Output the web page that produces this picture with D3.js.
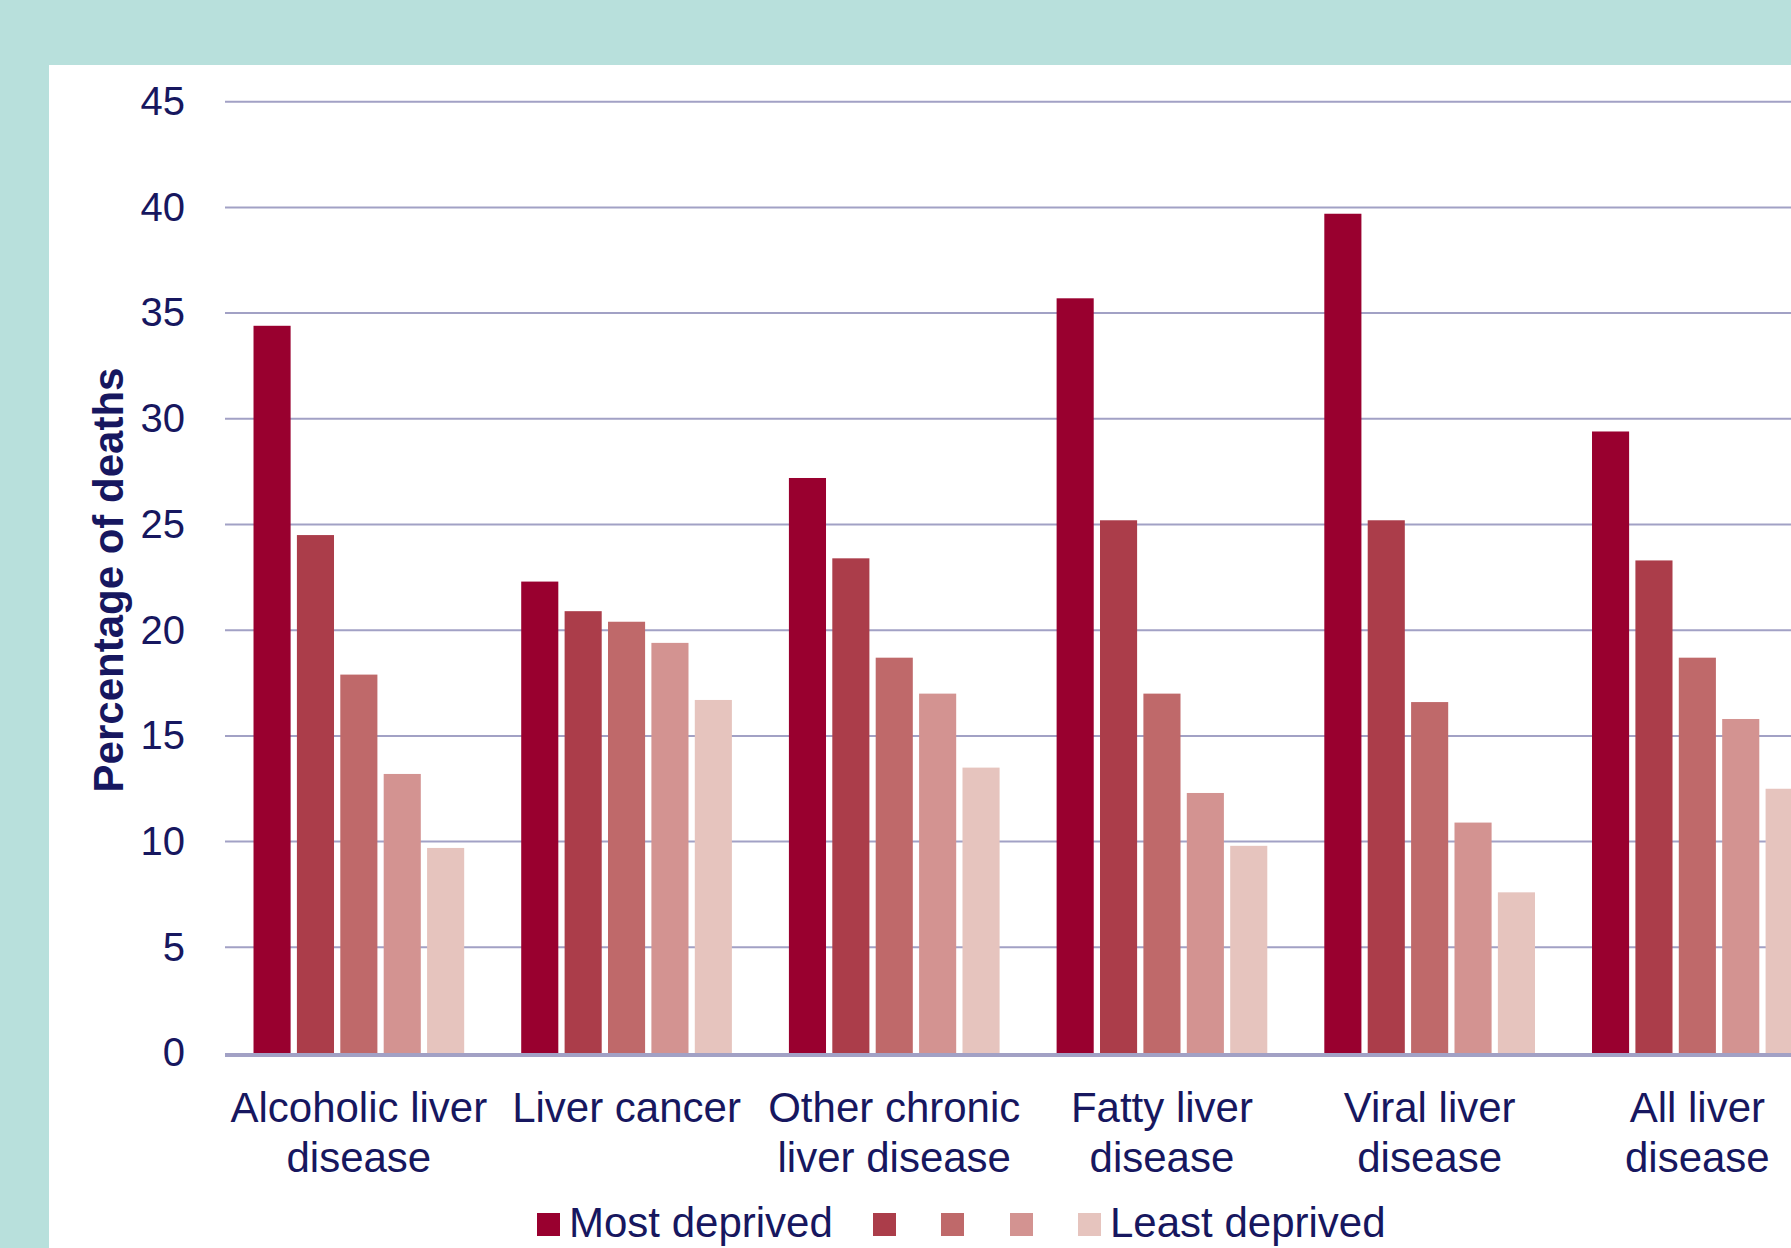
<!DOCTYPE html>
<html>
<head>
<meta charset="utf-8">
<script src="https://cdn.jsdelivr.net/npm/d3@7"></script>
<style>
  html, body { margin: 0; padding: 0; background: #b8e0dc; }
  svg { display: block; }
  text { font-family: "Liberation Sans", Arial, sans-serif; fill: #17175f; }
</style>
</head>
<body>
<svg id="chart" width="1791" height="1248"></svg>
<script>
// Share of liver-disease deaths by deprivation quintile
const categories = [
  ["Alcoholic liver", "disease"],
  ["Liver cancer"],
  ["Other chronic", "liver disease"],
  ["Fatty liver", "disease"],
  ["Viral liver", "disease"],
  ["All liver", "disease"]
];
const seriesNames = ["Most deprived", "", "", "", "Least deprived"];
const seriesColors = ["#99002f", "#ab3d4a", "#bf696a", "#d39391", "#e6c4be"];

// one array per quintile, in category order
const mostDeprived  = [34.4, 22.3, 27.2, 35.7, 39.7, 29.4];
const quintile2     = [24.5, 20.9, 23.4, 25.2, 25.2, 23.3];
const quintile3     = [17.9, 20.4, 18.7, 17.0, 16.6, 18.7];
const quintile4     = [13.2, 19.4, 17.0, 12.3, 10.9, 15.8];
const leastDeprived = [ 9.7, 16.7, 13.5,  9.8,  7.6, 12.5];
const seriesValues = [mostDeprived, quintile2, quintile3, quintile4, leastDeprived];

const yTicks = [0, 5, 10, 15, 20, 25, 30, 35, 40, 45];

const svg = d3.select("#chart");
const W = 1791, H = 1248;

// page frame: teal border with a white panel
svg.append("rect").attr("width", W).attr("height", H).attr("fill", "#b8e0dc");
svg.append("rect").attr("x", 49).attr("y", 65).attr("width", W - 49).attr("height", H - 65).attr("fill", "#ffffff");

const plotLeft = 225, step = 267.7;
const y = d3.scaleLinear().domain([0, 45]).range([1053, 101.7]);
const catIdx = categories.map((c, i) => i);
const x0 = d3.scaleBand().domain(catIdx).range([plotLeft, plotLeft + step * categories.length])
  .paddingInner(0.213).paddingOuter(0.1065);
const x1 = d3.scaleBand().domain(d3.range(seriesValues.length)).range([0, x0.bandwidth()])
  .paddingInner(0.145);

// horizontal grid lines
const grid = svg.append("g");
grid.selectAll("line").data(yTicks.filter(t => t > 0)).join("line")
  .attr("x1", plotLeft).attr("x2", W)
  .attr("y1", d => y(d)).attr("y2", d => y(d))
  .attr("stroke", "#a2a1c5").attr("stroke-width", 2);

// y axis tick labels
const yAxis = svg.append("g").attr("transform", `translate(${plotLeft},0)`)
  .call(d3.axisLeft(y).tickValues(yTicks).tickSize(0).tickPadding(40));
yAxis.select(".domain").remove();
yAxis.selectAll("text").attr("font-size", 40).attr("fill", "#17175f")
  .style("font-family", '"Liberation Sans", Arial, sans-serif');

// bars
const groups = svg.append("g").selectAll("g").data(catIdx).join("g")
  .attr("transform", i => `translate(${x0(i)},0)`);
groups.selectAll("rect")
  .data(i => seriesValues.map((vals, s) => ({ s, v: vals[i] })))
  .join("rect")
  .attr("x", d => x1(d.s))
  .attr("width", x1.bandwidth())
  .attr("y", d => y(d.v))
  .attr("height", d => y(0) - y(d.v))
  .attr("fill", d => seriesColors[d.s]);

// baseline
svg.append("line").attr("x1", plotLeft).attr("x2", W)
  .attr("y1", y(0) + 2).attr("y2", y(0) + 2)
  .attr("stroke", "#a2a1c5").attr("stroke-width", 4);

// category labels (two lines each)
const xLab = svg.append("g").selectAll("text").data(catIdx).join("text")
  .attr("text-anchor", "middle").attr("font-size", 42)
  .attr("x", i => x0(i) + x0.bandwidth() / 2)
  .attr("y", 1122);
xLab.selectAll("tspan").data(i => categories[i]).join("tspan")
  .attr("x", function () { return d3.select(this.parentNode).attr("x"); })
  .attr("dy", (d, k) => k === 0 ? 0 : 50)
  .text(d => d);

// y axis title
svg.append("text")
  .attr("transform", "translate(123,580) rotate(-90)")
  .attr("text-anchor", "middle").attr("font-size", 42).attr("font-weight", "bold")
  .text("Percentage of deaths");

// legend
const legendX = [537, 873, 941, 1010, 1078];
const legend = svg.append("g").selectAll("g").data(seriesNames.map((n, s) => ({ n, s }))).join("g")
  .attr("transform", d => `translate(${legendX[d.s]},1213)`);
legend.append("rect").attr("width", 23).attr("height", 23).attr("fill", d => seriesColors[d.s]);
legend.append("text").attr("x", 32).attr("y", 24).attr("font-size", 42)
  .text(d => d.n);
</script>
</body>
</html>
